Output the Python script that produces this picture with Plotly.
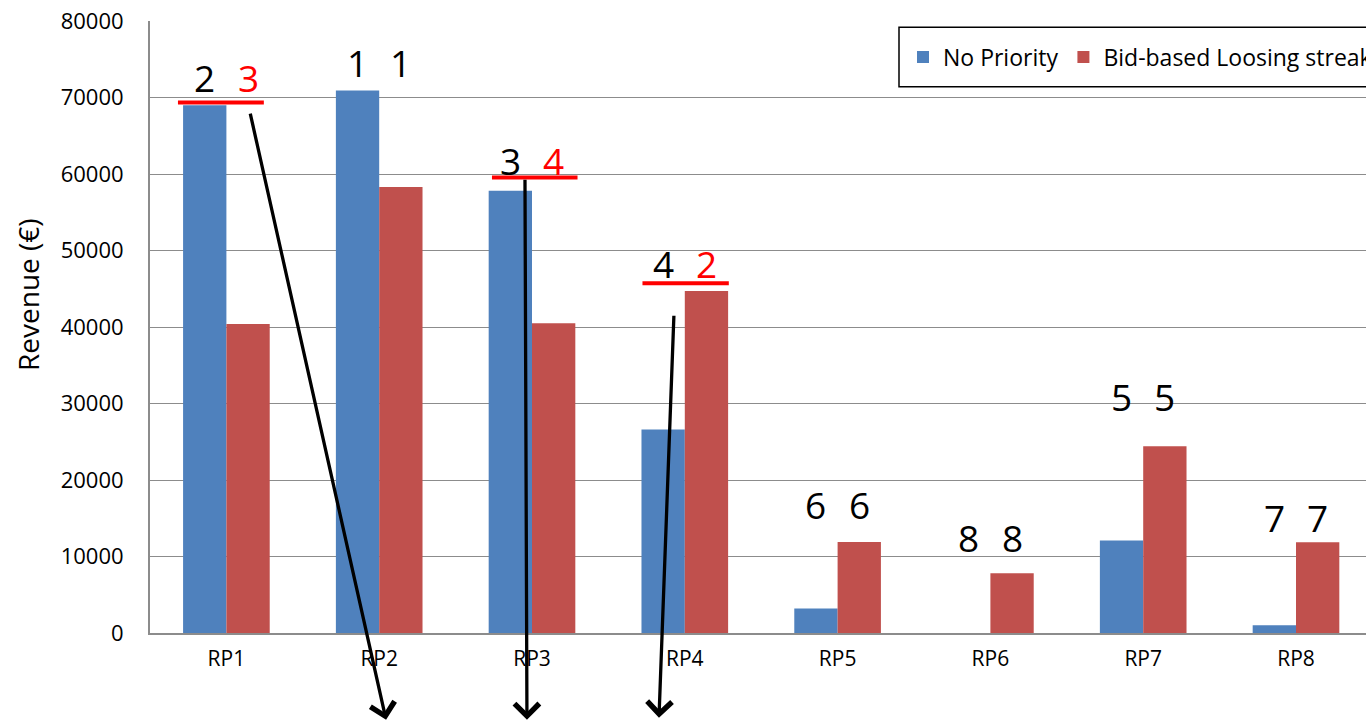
import plotly.graph_objects as go

# ---- data ----
categories = ["RP1", "RP2", "RP3", "RP4", "RP5", "RP6", "RP7", "RP8"]
no_priority = [69000, 70900, 57800, 26600, 3200, 0, 12100, 1000]
bid_based = [40400, 58300, 40500, 44700, 11900, 7800, 24400, 11850]
rank_no_priority = [2, 1, 3, 4, 6, 8, 5, 7]
rank_bid_based = [3, 1, 4, 2, 6, 8, 5, 7]
series_names = ["No Priority", "Bid-based Loosing streak"]

# ---- annotation placement (value units) ----
rank_label_y = [72550, 74550, 61750, 48340, 16790, 12470, 30930, 15090]
underline_y = [69350, None, 59550, 45720, None, None, None, None]
underline_span = [(-0.317, 0.245), None, (-0.262, 0.298), (-0.277, 0.288), None, None, None, None]
# arrows: (tail category position, tail value, head category position, head value)
arrows = [
    (0.154, 68100, 1.045, -11350),
    (1.954, 59450, 1.967, -11350),
    (2.929, 41660, 2.831, -11080),
]

# ---- layout constants ----
W, H = 1366, 721
M_L, M_R, M_T, M_B = 150, 0, 21, 88
PLOT_W = W - M_L - M_R
PLOT_H = H - M_T - M_B
CAT_PX = 152.8
X_RANGE = [-0.5, -0.5 + PLOT_W / CAT_PX]
Y_MAX = 80000
BARGAP = 0.433
FONT = "Open Sans"
BLUE = "#4F81BD"
RED = "#C0504D"
GRID = "#8c8c8c"


def paper_y(v):
    return v / Y_MAX


def paper_x_px(px):
    return (px - M_L) / PLOT_W


def paper_y_px(py):
    return (H - M_B - py) / PLOT_H


fig = go.Figure()
fig.add_trace(go.Bar(x=categories, y=no_priority, name=series_names[0],
                     marker=dict(color=BLUE, line=dict(width=0))))
fig.add_trace(go.Bar(x=categories, y=bid_based, name=series_names[1],
                     marker=dict(color=RED, line=dict(width=0))))

annotations = []
shapes = []
bar_offset_px = (1 - BARGAP) / 4 * CAT_PX

for i, cat in enumerate(categories):
    changed = rank_no_priority[i] != rank_bid_based[i]
    annotations.append(dict(x=cat, y=rank_label_y[i], xref="x", yref="y",
                            text=str(rank_no_priority[i]), showarrow=False,
                            xshift=-bar_offset_px, yanchor="middle",
                            font=dict(family=FONT, size=37, color="black")))
    annotations.append(dict(x=cat, y=rank_label_y[i], xref="x", yref="y",
                            text=str(rank_bid_based[i]), showarrow=False,
                            xshift=bar_offset_px, yanchor="middle",
                            font=dict(family=FONT, size=37, color="#FF0000" if changed else "black")))
    if underline_y[i] is not None:
        a, b = underline_span[i]
        shapes.append(dict(type="line", xref="x", yref="y", x0=i + a, x1=i + b,
                           y0=underline_y[i], y1=underline_y[i],
                           line=dict(color="#FF0000", width=4), layer="above"))

for tx, ty, hx, hy in arrows:
    annotations.append(dict(x=hx, y=paper_y(hy), xref="x", yref="paper",
                            ax=(tx - hx) * CAT_PX, ay=-(ty - hy) * PLOT_H / Y_MAX,
                            axref="pixel", ayref="pixel", text="", showarrow=True,
                            arrowhead=4, arrowwidth=3.3, arrowsize=1.45,
                            arrowcolor="black", standoff=0, startstandoff=0,
                            font=dict(size=1)))

# y axis title, set slightly above the axis midpoint
annotations.append(dict(x=paper_x_px(28), y=paper_y_px(294), xref="paper", yref="paper",
                        text="Revenue (€)", textangle=-90, showarrow=False,
                        xanchor="center", yanchor="middle",
                        font=dict(family=FONT, size=28, color="black")))

# legend frame
shapes.append(dict(type="rect", xref="paper", yref="paper",
                   x0=paper_x_px(899), x1=paper_x_px(1420),
                   y0=paper_y_px(86.7), y1=paper_y_px(27.3),
                   line=dict(color="black", width=1.5), fillcolor="white", layer="below"))

fig.update_layout(
    width=W, height=H,
    margin=dict(l=M_L, r=M_R, t=M_T, b=M_B, autoexpand=False),
    paper_bgcolor="white", plot_bgcolor="white",
    barmode="group", bargap=BARGAP, bargroupgap=0,
    font=dict(family=FONT, size=22, color="black"),
    showlegend=True,
    legend=dict(orientation="h", x=paper_x_px(903), xanchor="left",
                y=paper_y_px(57), yanchor="middle",
                bgcolor="rgba(0,0,0,0)", borderwidth=0,
                font=dict(family=FONT, size=23, color="black")),
    annotations=annotations,
    shapes=shapes,
)

fig.update_xaxes(type="category", range=X_RANGE, showgrid=False,
                 showline=True, linecolor=GRID, linewidth=2,
                 ticks="", tickfont=dict(family=FONT, size=21), ticklabelstandoff=6)
fig.update_yaxes(range=[0, Y_MAX], dtick=10000, tickformat="d",
                 showgrid=True, gridcolor=GRID, gridwidth=1.3,
                 showline=True, linecolor=GRID, linewidth=2, zeroline=False,
                 ticks="", tickfont=dict(family=FONT, size=22), ticklabelstandoff=20)

fig.write_html("out.html")
